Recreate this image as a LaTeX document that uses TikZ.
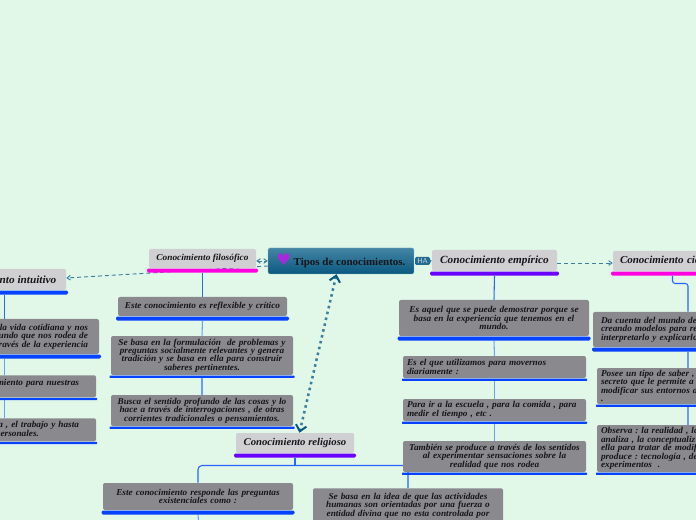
\documentclass[tikz,border=0pt]{standalone}
\usepackage{fontspec}
\setmainfont{Liberation Serif}[FakeStretch=1.03]
\newfontfamily\heartfont{DejaVu Sans}
\usetikzlibrary{positioning,arrows.meta,backgrounds}
\definecolor{pagegreen}{RGB}{225,247,232}
\definecolor{cardgray}{RGB}{138,138,142}
\definecolor{headgray}{RGB}{208,208,210}
\definecolor{inkdark}{RGB}{22,22,26}
\definecolor{barblue}{RGB}{6,66,255}
\definecolor{barmagenta}{RGB}{255,0,224}
\definecolor{barviolet}{RGB}{106,0,255}
\definecolor{linkblue}{RGB}{40,100,255}
\definecolor{linkpale}{RGB}{110,155,255}
\definecolor{teallink}{RGB}{58,127,159}
\definecolor{tealdark}{RGB}{10,88,128}
\definecolor{heartpurple}{RGB}{170,40,220}
\tikzset{
  cardsize/.style n args={3}{minimum width=#1*0.75pt,minimum height=#2*0.75pt,text width=#3*0.75pt},
  barsize/.style={minimum width=#1*0.75pt},
  card/.style={fill=cardgray,rounded corners=1.5pt,inner sep=0pt,text=inkdark,align=center,
    font=\frenchspacing\fontsize{6.75pt}{6.35pt}\selectfont\bfseries\itshape},
  cardleft/.style={card,align=left},
  cardright/.style={card,align=right},
  head/.style={fill=headgray,rounded corners=1.5pt,inner sep=0pt,text=inkdark,align=center,
    font=\fontsize{8.2pt}{9pt}\selectfont\bfseries\itshape},
  headsmall/.style={head,font=\fontsize{6.8pt}{8pt}\selectfont\bfseries\itshape},
  bar/.style={rounded corners=1pt,inner sep=0pt,minimum height=3pt,below=0pt of #1},
  barthin/.style={rounded corners=0.5pt,inner sep=0pt,minimum height=1.8pt,below=0pt of #1},
  link/.style={draw=linkblue,line width=0.8pt},
  linkp/.style={draw=linkpale,line width=0.8pt},
  dashlink/.style={draw=teallink,line width=0.7pt,dash pattern=on 3pt off 2.2pt},
}
\begin{document}
\begin{tikzpicture}[x=0.75pt,y=-0.75pt]
	\useasboundingbox (0,0) rectangle (696,520);
	\clip (0,0) rectangle (696,520);

	% centre
	\node [rounded corners=1.5pt,top color=teallink!95!white,bottom color=tealdark,draw=teallink!60!white,line width=0.3pt,
		inner sep=0pt,minimum width=146*0.75pt,minimum height=26*0.75pt,text=inkdark] (tipos) at (341,261)
		{{\heartfont\fontsize{12pt}{10pt}\selectfont\color{heartpurple}♥}{\fontsize{8pt}{9pt}\selectfont\bfseries\ Tipos de conocimientos.}};
	\node [fill=teallink!55!tealdark,rounded corners=1pt,inner sep=0pt,minimum width=15*0.75pt,minimum height=8*0.75pt,
		text=white!70!teallink,font=\sffamily\fontsize{5.4pt}{5.5pt}\selectfont] (ha) at (422.5,261) {HA};

	% filosofico
	\node [headsmall,minimum width=107*0.75pt,minimum height=19*0.75pt] (filo) at (202.5,258.5) {Conocimiento filosófico};
	\node [bar=filo,fill=barmagenta,barsize=111] (filobar) {};
	\node [card,cardsize={169}{19}{165}] (filoa) at (202.5,306.5) {Este conocimiento es reflexible y crítico};
	\node [bar=filoa,fill=barblue,barsize=173] (filoabar) {};
	\node [card,cardsize={182}{39}{178}] (filob) at (202,355.5) {Se basa en la formulación\ \ de problemas y\\preguntas socialmente relevantes y genera\\tradición y se basa en ella para construir\\saberes pertinentes.};
	\node [barthin=filob,fill=barblue,barsize=185] (filobbar) {};
	\node [card,cardsize={182}{31}{178}] (filoc) at (202,410.5) {Busca el sentido profundo de las cosas y lo\\hace a través de interrogaciones , de otras\\corrientes tradicionales o pensamientos.};
	\node [barthin=filoc,fill=barblue,barsize=185] (filocbar) {};

	% intuitivo
	\node [head,minimum width=126*0.75pt,minimum height=21*0.75pt] (intu) at (3,279.5) {Conocimiento intuitivo};
	\node [bar=intu,fill=barblue,barsize=130] (intubar) {};
	\node [cardright,cardsize={199}{35}{177}] (intua) at (-0.5,336.5) {la vida cotidiana y nos\\mundo que nos rodea de\\través de la experiencia};
	\node [bar=intua,fill=barblue,barsize=203] (intuabar) {};
	\node [cardright,cardsize={196}{22}{162},anchor=north] (intub) at (-2,375) {conocimiento para nuestras\\ \phantom{x}};
	\node [barthin=intub,fill=barblue,barsize=198] (intubbar) {};
	\node [cardright,cardsize={196}{23}{162},anchor=north] (intuc) at (-2,418) {vida , el trabajo y hasta\\personales.\hspace*{30pt}};
	\node [barthin=intuc,fill=barblue,barsize=198] (intucbar) {};

	% empirico
	\node [head,minimum width=125*0.75pt,minimum height=21*0.75pt] (empi) at (494.5,260.5) {Conocimiento empírico};
	\node [bar=empi,fill=barviolet,barsize=129] (empibar) {};
	\node [card,cardsize={190}{36}{180}] (empia) at (494,318) {Es aquel que se puede demostrar porque se\\basa en la experiencia que tenemos en el\\mundo.};
	\node [bar=empia,fill=barblue,barsize=193] (empiabar) {};
	\node [cardleft,cardsize={183}{22}{175}] (empib) at (494.5,367) {Es el que utilizamos para movernos\\diariamente :};
	\node [barthin=empib,fill=barblue,barsize=185] (empibbar) {};
	\node [cardleft,cardsize={183}{22}{175}] (empic) at (494.5,410) {Para ir a la escuela , para la comida , para\\medir el tiempo , etc .};
	\node [barthin=empic,fill=barblue,barsize=185] (empicbar) {};
	\node [card,cardsize={183}{31}{175}] (empid) at (494.5,456.5) {También se produce a través de los sentidos\\al experimentar sensaciones sobre la\\realidad que nos rodea};
	\node [barthin=empid,fill=barblue,barsize=185] (empidbar) {};

	% cientifico
	\node [head,minimum width=187*0.75pt,minimum height=20*0.75pt,align=left,text width=173*0.75pt,font=\fontsize{8pt}{9pt}\selectfont\bfseries\itshape] (cien) at (706.5,261) {Conocimiento científico};
	\node [bar=cien,fill=barmagenta,barsize=191] (cienbar) {};
	\node [cardleft,cardsize={207}{35}{191}] (ciena) at (696.5,329.5) {Da cuenta del mundo de\\creando modelos para re\\interpretarlo y explicarlo};
	\node [bar=ciena,fill=barblue,barsize=209] (cienabar) {};
	\node [cardleft,cardsize={203}{36}{195}] (cienb) at (698.5,386) {Posee un tipo de saber , lo\\secreto que le permite a lo\\modificar sus entornos a f\\.};
	\node [barthin=cienb,fill=barblue,barsize=205] (cienbbar) {};
	\node [cardleft,cardsize={203}{47}{195}] (cienc) at (698.5,448.5) {Observa : la realidad , la\\analiza , la conceptualiz\\ella para tratar de modif\\produce : tecnología , de\\experimentos\ \ .};
	\node [barthin=cienc,fill=barblue,barsize=205] (ciencbar) {};

	% religioso
	\node [head,minimum width=118*0.75pt,minimum height=20*0.75pt,font=\fontsize{7.8pt}{9pt}\selectfont\bfseries\itshape] (reli) at (295,443) {Conocimiento religioso};
	\node [bar=reli,fill=barviolet,barsize=122] (relibar) {};
	\node [card,cardsize={190}{27}{180}] (relia) at (198,496.5) {Este conocimiento responde las preguntas\\existenciales como :};
	\node [bar=relia,fill=barblue,barsize=193] (reliabar) {};
	\node [card,cardsize={190}{50}{180},anchor=north] (relib) at (408,488) {Se basa en la idea de que las actividades\\humanas son orientadas por una fuerza o\\entidad divina que no esta controlada por\\\phantom{x}\\\phantom{x}};
	\coordinate (reliaout) at (198.5,520);
	\coordinate (relifork) at (295,465.5);
	\coordinate (tiposout) at (268,266);
	\coordinate (cienturn) at (672.5,283.5);

	\begin{scope}[on background layer]
		\fill [pagegreen] (0,0) rectangle (696,520);

		\draw [link] (filobar.south) -- (filoa.north);
		\draw [linkp] (filoabar.south) -- (filob.north);
		\draw [linkp] (filobbar.south) -- (filoc.north);

		\draw [link] (intubar.south -| 4.5,0) -- (intua.north -| 4.5,0);
		\draw [linkp] (intuabar.south -| 4.5,0) -- (intub.north -| 4.5,0);
		\draw [linkp] (intubbar.south -| 4.5,0) -- (intuc.north -| 4.5,0);

		\draw [link] (empibar.south) -- (empia.north);
		\draw [linkp] (empiabar.south) -- (empib.north);
		\draw [linkp] (empibbar.south) -- (empic.north);
		\draw [linkp] (empicbar.south) -- (empid.north);

		\draw [link,rounded corners=2pt] (cienturn |- cienbar.south) -- (cienturn) -| (ciena.north -| 688,0);
		\draw [linkp] (cienabar.south -| 688,0) -- (cienb.north -| 688,0);
		\draw [linkp] (cienbbar.south -| 688,0) -- (cienc.north -| 688,0);

		\draw [link] (relibar.south) -- (relifork);
		\draw [link,rounded corners=3pt] (relia.north) |- (relifork) -| (relib.north);
		\draw [linkp] (reliabar.south) -- (reliaout);

		\draw [dashlink,-{Straight Barb[length=2.5pt,width=3.5pt]}] (tiposout) -- (intu.east |- 0,278);
		\draw [dashlink,{Straight Barb[length=2.5pt,width=3.5pt]}-{Straight Barb[length=2.5pt,width=3.5pt]}] (filo.east |- tipos.west) -- (tipos.west);
		\draw [dashlink,-{Straight Barb[length=2.5pt,width=3.5pt]}] (empi.east |- 0,263) -- (cien.west |- 0,263);
		\draw [teallink,line width=0.7pt,-{Straight Barb[length=2pt,width=3pt]}] (ha.east) -- (empi.west);
	\end{scope}

	\draw [teallink,line width=1.9pt,dash pattern=on 1.9pt off 2.6pt,
		{Straight Barb[tealdark,length=4.5pt,width=8pt,line width=1.5pt]}-{Straight Barb[tealdark,length=4.5pt,width=8pt,line width=1.5pt]}]
		(tipos.south -| 336.5,0) -- (reli.north -| 299.5,0);
\end{tikzpicture}
\end{document}
